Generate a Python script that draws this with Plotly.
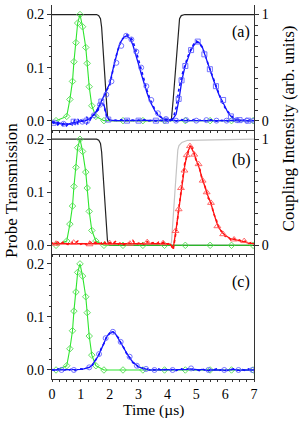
import numpy as np
import plotly.graph_objects as go

# ---------------- data ----------------
t_grid = np.round(np.arange(0, 7.001, 0.1), 1)

# input probe pulse (green, same in all panels)
green_t = [0.14, 0.51, 0.62, 0.71, 0.76, 0.83, 0.89, 0.97, 1.06, 1.17, 1.22, 1.29, 1.38, 1.52, 1.8, 2.46, 3.15, 3.9, 4.62, 5.48, 6.22, 6.97]
green_v = [0.0, 0.008, 0.040, 0.074, 0.111, 0.147, 0.184, 0.2, 0.177, 0.138, 0.108, 0.064, 0.028, 0.008, 0.0, 0.0, 0.0, 0.0, 0.0, 0.0, 0.0, 0.0]

# coupling intensity
coup_a_t = [0, 1.55, 1.62, 1.68, 1.72, 1.76, 1.8, 1.84, 1.88, 1.92, 1.96, 2.0, 4.1, 4.14, 4.2, 4.26, 4.32, 4.38, 4.42, 4.48, 4.6, 7]
coup_a_v = [1, 1, 0.99, 0.96, 0.88, 0.72, 0.52, 0.32, 0.15, 0.05, 0.01, 0, 0, 0.02, 0.2, 0.42, 0.65, 0.87, 0.96, 0.99, 1, 1]
coup_b_t = [0, 1.55, 1.62, 1.68, 1.72, 1.76, 1.8, 1.84, 1.88, 1.92, 1.96, 2.0, 7]
coup_b_v = [1, 1, 0.99, 0.96, 0.88, 0.72, 0.52, 0.32, 0.15, 0.05, 0.01, 0, 0]
gray_b_t = [2.0, 4.1, 4.14, 4.2, 4.26, 4.32, 4.36, 4.4, 4.5, 4.7, 7]
gray_b_v = [0, 0, 0.03, 0.25, 0.5, 0.75, 0.9, 0.94, 0.97, 0.99, 1]

# panel (a) blue traces
blueA_line = [-0.003, -0.004, -0.005, -0.006, -0.007, -0.007, -0.006, -0.005, -0.004, -0.002,
              -0.002, -0.001, 0.001, 0.003, 0.008, 0.014, 0.024, 0.035, 0.046, 0.056,
              0.070, 0.094, 0.117, 0.137, 0.150, 0.158, 0.160, 0.155, 0.143, 0.126,
              0.106, 0.087, 0.068, 0.051, 0.036, 0.024, 0.015, 0.009, 0.005, 0.003,
              0.002, 0.001, 0.001, 0.000, 0.000, 0.001, 0.000, 0.000, 0.001, 0.000,
              0.000, 0.001, 0.000, 0.000, 0.000, 0.001, 0.000, 0.000, 0.001, 0.000,
              0.000, 0.000, 0.001, 0.000, 0.000, 0.001, 0.000, 0.000, 0.000, 0.001, 0.000]
blueA_dots = [-0.002, -0.006, -0.003, -0.009, -0.005, -0.010, -0.004, -0.008, 0.003, -0.006,
              0.001, -0.005, 0.007, -0.001, 0.010, 0.012, 0.022, 0.037, 0.043, 0.058,
              0.066, 0.090, 0.118, 0.135, 0.152, 0.157, 0.162, 0.160, 0.150, 0.134,
              0.114, 0.093, 0.073, 0.056, 0.040, 0.027, 0.017, 0.010, 0.006, 0.002,
              0.003, 0.000, 0.002, -0.001, 0.001, 0.002, -0.001, 0.001, 0.000, 0.002,
              -0.001, 0.001, 0.002, 0.000, -0.001, 0.002, 0.001, -0.001, 0.001, 0.000,
              0.002, -0.001, 0.001, 0.000, 0.002, -0.001, 0.001, 0.000, 0.002, 0.000, 0.001]
blueA_mk_t = [0.4, 1.05, 1.45, 1.66, 1.88, 2.06, 2.23, 2.4, 2.57, 2.75, 2.92, 3.09, 3.27, 3.44, 3.67, 3.95, 4.3, 4.65, 5.0, 5.35, 5.7, 6.05, 6.4, 6.75, 7.0]
blueA_mk_v = [-0.006, -0.002, 0.010, 0.030, 0.049, 0.074, 0.109, 0.141, 0.160, 0.153, 0.130, 0.100, 0.065, 0.039, 0.014, 0.003, 0.0, 0.001, 0.0, 0.001, 0.0, 0.0, 0.001, 0.0, 0.0]

blueB_line = [-0.003, -0.004, -0.005, -0.006, -0.007, -0.007, -0.006, -0.005, -0.004, -0.002,
              -0.002, -0.001, 0.001, 0.003, 0.008, 0.014, 0.024, 0.034, 0.030, 0.008,
              0.001, 0.000, 0.000, 0.000, 0.000, 0.000, 0.000, 0.000, 0.000, 0.000,
              0.000, 0.000, 0.000, 0.000, 0.000, 0.000, 0.000, 0.000, 0.000, 0.000,
              0.000, 0.001, 0.004, 0.012, 0.040, 0.076, 0.100, 0.117, 0.131, 0.141,
              0.147, 0.147, 0.140, 0.124, 0.107, 0.091, 0.076, 0.061, 0.047, 0.037,
              0.025, 0.015, 0.008, 0.004, 0.002, 0.001, 0.000, 0.000, 0.000, 0.000, 0.000]
blueB_dots = [-0.004, -0.002, -0.008, -0.004, -0.011, -0.006, -0.009, -0.003, -0.007, 0.002,
              -0.004, 0.000, -0.006, 0.004, 0.006, 0.016, 0.020, 0.036, 0.028, 0.006,
              0.002, -0.001, 0.001, 0.000, 0.002, -0.001, 0.001, 0.000, 0.001, -0.001,
              0.001, 0.000, 0.002, -0.001, 0.000, 0.001, -0.001, 0.001, 0.000, 0.002,
              -0.001, 0.002, 0.004, 0.025, 0.060, 0.085, 0.104, 0.120, 0.133, 0.143,
              0.150, 0.147, 0.138, 0.126, 0.108, 0.093, 0.078, 0.060, 0.048, 0.034,
              0.024, 0.016, 0.010, 0.005, 0.003, 0.002, 0.000, 0.002, -0.001, 0.001, 0.000]
blueB_mk_t = [0.05, 0.75, 1.2, 1.71, 1.95, 2.6, 3.0, 3.6, 3.95, 4.39, 4.49, 4.62, 4.82, 5.05, 5.28, 5.47, 5.68, 5.93, 6.2, 6.5, 6.8]
blueB_mk_v = [-0.004, -0.002, 0.0, 0.036, 0.002, 0.0, 0.0, 0.0, 0.0, 0.041, 0.076, 0.103, 0.133, 0.149, 0.125, 0.097, 0.065, 0.039, 0.008, 0.001, 0.0]

# panel (b) red traces
red_line = [0.003, 0.003, 0.004, 0.003, 0.003, 0.004, 0.003, 0.003, 0.004, 0.003,
            0.003, 0.004, 0.003, 0.003, 0.004, 0.003, 0.003, 0.004, 0.003, 0.003,
            0.004, 0.003, 0.003, 0.004, 0.003, 0.003, 0.004, 0.003, 0.003, 0.004,
            0.003, 0.003, 0.004, 0.003, 0.003, 0.004, 0.003, 0.003, 0.004, 0.003,
            0.003, 0.002, -0.006, 0.030, 0.068, 0.115, 0.150, 0.176, 0.187, 0.176,
            0.162, 0.146, 0.127, 0.109, 0.094, 0.080, 0.063, 0.044, 0.032, 0.024,
            0.019, 0.015, 0.012, 0.011, 0.010, 0.008, 0.008, 0.006, 0.004, 0.003, 0.003]
red_dots = [0.005, 0.001, 0.006, 0.002, 0.007, 0.003, 0.000, 0.006, 0.004, 0.008,
            0.002, 0.005, 0.001, 0.007, 0.003, 0.006, 0.002, 0.004, 0.008, 0.001,
            0.005, 0.003, 0.007, 0.002, 0.006, 0.001, 0.005, 0.004, 0.009, 0.002,
            0.004, 0.006, 0.001, 0.007, 0.003, 0.005, 0.002, 0.006, 0.004, 0.007,
            0.002, 0.004, -0.008, 0.026, 0.072, 0.110, 0.155, 0.172, 0.190, 0.180,
            0.158, 0.150, 0.124, 0.112, 0.090, 0.083, 0.060, 0.047, 0.029, 0.026,
            0.017, 0.016, 0.010, 0.013, 0.008, 0.010, 0.006, 0.008, 0.003, 0.005, 0.002]
red_mk_t = [0.14, 0.75, 1.3, 2.0, 2.7, 3.3, 3.85, 4.28, 4.39, 4.47, 4.59, 4.67, 4.78, 4.93, 5.08, 5.22, 5.36, 5.51, 5.73, 5.93, 6.31, 6.66]
red_mk_v = [0.003, 0.005, 0.002, 0.004, 0.003, 0.006, 0.004, 0.027, 0.068, 0.108, 0.141, 0.170, 0.187, 0.171, 0.153, 0.122, 0.100, 0.080, 0.036, 0.021, 0.011, 0.008]

# panel (c) blue traces
blueC_line = [0.000, 0.000, 0.001, 0.000, 0.000, 0.000, 0.000, 0.001, 0.000, 0.001,
              0.001, 0.002, 0.003, 0.005, 0.010, 0.017, 0.026, 0.038, 0.052, 0.063,
              0.070, 0.072, 0.068, 0.060, 0.050, 0.040, 0.030, 0.022, 0.015, 0.010,
              0.006, 0.004, 0.002, 0.001, 0.000, 0.000, 0.001, 0.000, 0.000, 0.001,
              0.000, 0.001, 0.000, 0.000, 0.001, 0.000, 0.000, 0.001, 0.002, 0.001,
              0.000, 0.000, 0.001, 0.000, -0.001, 0.000, 0.000, 0.001, 0.000, 0.000,
              -0.001, 0.000, 0.000, 0.001, 0.000, -0.001, 0.000, 0.000, 0.001, 0.000, 0.000]
blueC_dots = [0.001, -0.001, 0.002, 0.000, -0.001, 0.001, 0.000, 0.002, -0.001, 0.001,
              0.002, 0.001, 0.004, 0.006, 0.009, 0.018, 0.025, 0.040, 0.050, 0.064,
              0.069, 0.073, 0.067, 0.061, 0.049, 0.041, 0.029, 0.023, 0.014, 0.011,
              0.005, 0.005, 0.001, 0.002, -0.001, 0.001, 0.000, 0.002, -0.001, 0.001,
              0.001, 0.000, 0.002, -0.001, 0.001, 0.002, -0.001, 0.002, 0.003, 0.000,
              0.001, -0.001, 0.002, 0.000, -0.002, 0.001, 0.000, 0.002, -0.001, 0.001,
              0.000, -0.001, 0.001, 0.002, -0.001, 0.000, 0.001, -0.001, 0.002, 0.000, 0.001]
blueC_mk_t = [0.33, 0.76, 1.29, 1.63, 1.86, 2.11, 2.38, 2.69, 2.94, 3.26, 3.55, 4.18, 4.82, 5.42, 5.97, 6.46, 6.94]
blueC_mk_v = [0.0, 0.0, 0.005, 0.030, 0.060, 0.072, 0.053, 0.025, 0.008, 0.002, 0.0, 0.0, 0.003, 0.0, 0.0, 0.0, 0.0]

x_ticks = [0, 1, 2, 3, 4, 5, 6, 7]
panel_labels = ["(a)", "(b)", "(c)"]

# ---------------- style ----------------
FONT = "Liberation Serif, Times New Roman, Times, serif"
BLUE = "#1010ff"
BLUE_MK = "#6464ff"
GREEN = "#2ee62e"
GREEN_MK = "#50dc50"
RED = "#ff1010"
RED_MK = "#ff5a5a"
AX = "#333333"

fig = go.Figure()

def line(x, y, xa, ya, color, width=1.3, dash="solid", mode="lines", symbol=None, mcolor=None, size=5):
    kw = dict(x=x, y=y, xaxis=xa, yaxis=ya, mode=mode, showlegend=False, hoverinfo="skip",
              line=dict(color=color, width=max(width, 0.5), dash=dash))
    if symbol:
        kw["marker"] = dict(symbol=symbol, size=size, color=mcolor or color, line=dict(width=0.9))
    fig.add_trace(go.Scatter(**kw))

# panel (a): probe on x3/y5, coupling on x3/y3
line(coup_a_t, coup_a_v, "x3", "y3", "#222222", 1.2)
line(green_t, green_v, "x3", "y5", GREEN, 1.1, mode="lines+markers", symbol="diamond-open", mcolor=GREEN_MK, size=5)
line(t_grid, blueA_dots, "x3", "y5", BLUE, 1.6, dash="dot")
line(t_grid, blueB_dots, "x3", "y5", BLUE, 1.6, dash="dot")
line(t_grid, blueA_line, "x3", "y5", BLUE, 1.3)
line(t_grid, blueB_line, "x3", "y5", BLUE, 1.3)
line(blueA_mk_t, blueA_mk_v, "x3", "y5", BLUE, 0, mode="markers", symbol="circle-open", mcolor=BLUE_MK)
line(blueB_mk_t, blueB_mk_v, "x3", "y5", BLUE, 0, mode="markers", symbol="square-open", mcolor=BLUE_MK)

# panel (b): probe on x2/y4, coupling on x2/y2
line(gray_b_t, gray_b_v, "x2", "y2", "#c4c4c4", 1.2)
line(coup_b_t, coup_b_v, "x2", "y2", "#222222", 1.2)
line(green_t, green_v, "x2", "y4", GREEN, 1.1, mode="lines+markers", symbol="diamond-open", mcolor=GREEN_MK, size=5)
line(t_grid, red_dots, "x2", "y4", RED, 1.6, dash="dot")
line(t_grid, red_line, "x2", "y4", RED, 1.3)
line(red_mk_t, red_mk_v, "x2", "y4", RED, 0, mode="markers", symbol="triangle-up-open", mcolor=RED_MK, size=6)

# panel (c)
line(green_t, green_v, "x", "y", GREEN, 1.1, mode="lines+markers", symbol="diamond-open", mcolor=GREEN_MK, size=5)
line(t_grid, blueC_dots, "x", "y", BLUE, 1.6, dash="dot")
line(t_grid, blueC_line, "x", "y", BLUE, 1.3)
line(blueC_mk_t, blueC_mk_v, "x", "y", BLUE, 0, mode="markers", symbol="circle-open", mcolor=BLUE_MK)

tickfont = dict(family=FONT, size=14, color="black")
PR = [-0.017, 0.218]
CR = [-0.085, 1.09]
D = [[0, 1 / 3], [1 / 3, 2 / 3], [2 / 3, 1]]

def xax(anchor, labels):
    return dict(range=[0, 7], tickvals=x_ticks, ticks="outside", ticklen=2, tickwidth=1, tickcolor=AX,
                showline=True, linecolor=AX, linewidth=1, showgrid=False, zeroline=False,
                showticklabels=labels, tickfont=tickfont, anchor=anchor,
                minor=dict(dtick=0.25, ticks="outside", ticklen=2, tickcolor=AX, showgrid=False))

def probe_ax(extra):
    d = dict(range=PR, tickvals=[0, 0.1, 0.2], tickformat=".1f", ticks="outside", ticklen=4, tickcolor=AX,
             showline=True, linecolor=AX, linewidth=1, showgrid=False, zeroline=False, tickfont=tickfont,
             minor=dict(dtick=0.02, ticks="outside", ticklen=2.5, tickcolor=AX, showgrid=False))
    d.update(extra)
    return d

def coup_ax(extra):
    d = dict(range=CR, tickvals=[0, 1], ticks="outside", ticklen=4, tickcolor=AX, side="right",
             showline=True, linecolor=AX, linewidth=1, showgrid=False, zeroline=False, tickfont=tickfont,
             minor=dict(dtick=0.1, ticks="outside", ticklen=2.5, tickcolor=AX, showgrid=False))
    d.update(extra)
    return d

fig.update_layout(
    width=300, height=421, autosize=False,
    margin=dict(l=52, r=46, t=5, b=42),
    paper_bgcolor="white", plot_bgcolor="white",
    font=dict(family=FONT, color="black"),
    xaxis=xax("y", True),
    xaxis2=xax("y2", False),
    xaxis3=xax("y3", False),
    xaxis4=dict(range=[0, 7], tickvals=x_ticks, ticks="inside", ticklen=4, tickcolor=AX, side="top",
                overlaying="x3", anchor="y3", showline=True, linecolor=AX, showgrid=False,
                zeroline=False, showticklabels=False,
                minor=dict(dtick=0.25, ticks="inside", ticklen=2.5, tickcolor=AX, showgrid=False)),
    yaxis=probe_ax(dict(domain=D[0], anchor="x", mirror=True)),
    yaxis2=coup_ax(dict(domain=D[1], anchor="x2")),
    yaxis3=coup_ax(dict(domain=D[2], anchor="x3")),
    yaxis4=probe_ax(dict(overlaying="y2", side="left", anchor="x2")),
    yaxis5=probe_ax(dict(overlaying="y3", side="left", anchor="x3")),
)

ann = [
    dict(text="Probe Transmission", x=-0.198, y=0.503, textangle=-90, yanchor="middle", size=17),
    dict(text="Coupling Intensity (arb. units)", x=1.17, y=0.671, textangle=-90, yanchor="middle", size=17),
    dict(text="Time (\u00b5s)", x=0.5, y=-0.1125, textangle=0, yanchor="bottom", size=15.5),
]
for a in ann:
    sz = a.pop("size")
    fig.add_annotation(xref="paper", yref="paper", showarrow=False, xanchor="center",
                       font=dict(family=FONT, size=sz, color="black"), **a)
for lab, yy in zip(panel_labels, [0.928, 0.586, 0.259]):
    fig.add_annotation(text=lab, xref="paper", yref="paper", x=0.936, y=yy, showarrow=False,
                       xanchor="center", yanchor="middle", font=dict(family=FONT, size=16, color="black"))

fig.write_html("out.html", config={"displayModeBar": False},
               post_script="document.body.style.margin='0px';")
